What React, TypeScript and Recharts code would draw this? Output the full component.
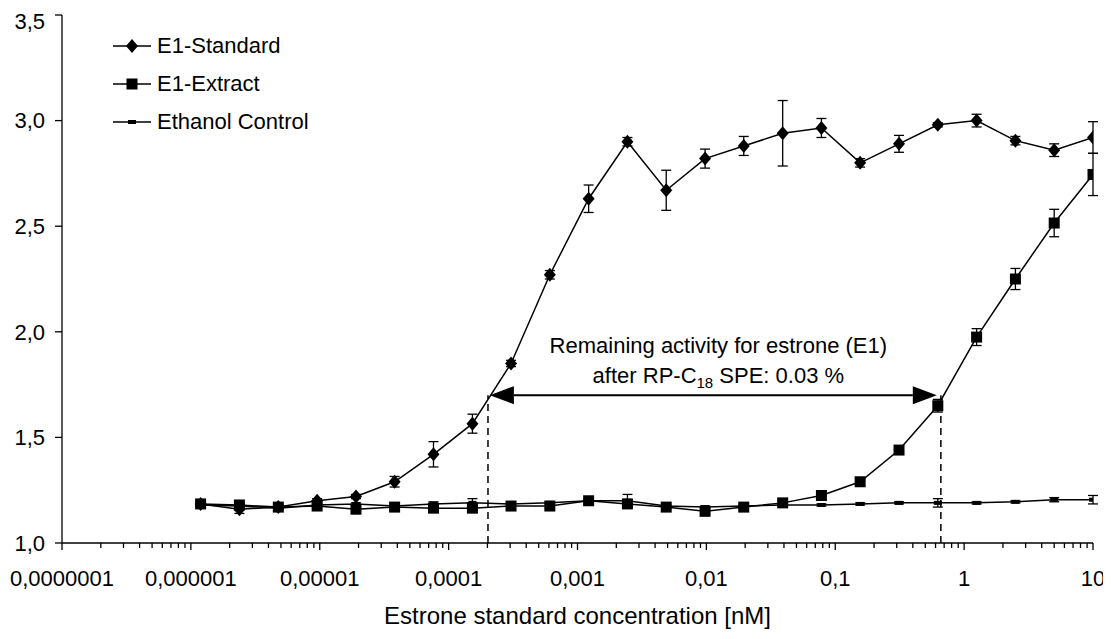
import React from 'react';
import { LineChart, Line, XAxis, YAxis, ErrorBar, ReferenceLine, Legend } from 'recharts';

const concentrations = [1.19e-6, 2.38e-6, 4.77e-6, 9.54e-6, 1.91e-5, 3.81e-5, 7.63e-5, 1.53e-4, 3.05e-4, 6.1e-4, 1.22e-3, 2.44e-3, 4.88e-3, 9.77e-3, 0.0195, 0.0391, 0.0781, 0.156, 0.3125, 0.625, 1.25, 2.5, 5, 10];
const standardMean = [1.185, 1.16, 1.17, 1.2, 1.22, 1.29, 1.42, 1.565, 1.85, 2.27, 2.63, 2.9, 2.67, 2.82, 2.88, 2.94, 2.965, 2.8, 2.89, 2.98, 3.0, 2.905, 2.86, 2.92];
const standardErr = [0.01, 0.02, 0.01, 0.01, 0.01, 0.025, 0.06, 0.045, 0.015, 0.02, 0.065, 0.02, 0.095, 0.045, 0.045, 0.155, 0.045, 0.02, 0.04, 0.01, 0.03, 0.02, 0.03, 0.075];
const extractMean = [1.185, 1.18, 1.17, 1.175, 1.16, 1.17, 1.165, 1.165, 1.175, 1.175, 1.2, 1.185, 1.17, 1.15, 1.17, 1.19, 1.225, 1.29, 1.44, 1.65, 1.975, 2.25, 2.515, 2.745];
const extractErr = [0.01, 0.01, 0.01, 0.01, 0.01, 0.01, 0.01, 0.01, 0.01, 0.01, 0.01, 0.01, 0.01, 0.015, 0.01, 0.01, 0.02, 0.01, 0.01, 0.03, 0.04, 0.05, 0.065, 0.1];
const controlMean = [1.18, 1.175, 1.165, 1.18, 1.185, 1.175, 1.185, 1.19, 1.185, 1.19, 1.2, 1.2, 1.175, 1.17, 1.175, 1.18, 1.18, 1.185, 1.19, 1.19, 1.19, 1.195, 1.205, 1.205];
const controlErr = [0.005, 0.01, 0.005, 0.005, 0.005, 0.005, 0.01, 0.02, 0.005, 0.005, 0.005, 0.03, 0.005, 0.005, 0.005, 0.005, 0.005, 0.005, 0.005, 0.02, 0.005, 0.005, 0.01, 0.02];

const decadeTicks = [1e-7, 1e-6, 1e-5, 1e-4, 1e-3, 1e-2, 1e-1, 1, 10];
const decadeLabels = ['0,0000001', '0,000001', '0,00001', '0,0001', '0,001', '0,01', '0,1', '1', '10'];
const minorMultipliers = [2, 3, 4, 5, 6, 7, 8, 9];
const yTicks = [1, 1.5, 2, 2.5, 3, 3.5];

const seriesNames = ['E1-Standard', 'E1-Extract', 'Ethanol Control'];

// annotation values (data space)
const leftDashX = 2.02e-4;
const rightDashX = 0.66;
const arrowLeftX = 2.09e-4;
const arrowRightX = 0.614;
const arrowY = 1.7;

const FONT = '"Liberation Sans", Arial, sans-serif';
const FS = 22;
const TITLE_FS = 24;

const standardData = concentrations.map((c, i) => ({ conc: c, v: standardMean[i], e: standardErr[i] }));
const extractData = concentrations.map((c, i) => ({ conc: c, v: extractMean[i], e: extractErr[i] }));
const controlData = concentrations.map((c, i) => ({ conc: c, v: controlMean[i], e: controlErr[i] }));

const allXTicks: number[] = [];
decadeTicks.forEach((d, i) => {
  allXTicks.push(d);
  if (i < decadeTicks.length - 1) minorMultipliers.forEach((m) => allXTicks.push(m * d));
});

const majorIndex = (v: number) =>
  decadeTicks.findIndex((d) => Math.abs(Math.log10(v) - Math.log10(d)) < 1e-6);

const XTick = (props: any) => {
  const { x, y, payload } = props;
  const idx = majorIndex(payload.value);
  const major = idx >= 0;
  return (
    <g>
      <line x1={x} y1={y} x2={x} y2={y + (major ? 7 : 5)} stroke="#000" strokeWidth={1.3} />
      {major && (
        <text x={x} y={y + 43} textAnchor="middle" fontSize={FS} fontFamily={FONT} fill="#000">
          {decadeLabels[idx]}
        </text>
      )}
    </g>
  );
};

const Diamond = (props: any) => {
  const { cx, cy, index } = props;
  if (cx == null || cy == null) return <g key={`d${index}`} />;
  return <path key={`d${index}`} d={`M${cx},${cy - 7} L${cx + 6},${cy} L${cx},${cy + 7} L${cx - 6},${cy} Z`} fill="#000" />;
};
const Square = (props: any) => {
  const { cx, cy, index } = props;
  if (cx == null || cy == null) return <g key={`s${index}`} />;
  return <rect key={`s${index}`} x={cx - 5.5} y={cy - 5.5} width={11} height={11} fill="#000" />;
};
const Dash = (props: any) => {
  const { cx, cy, index } = props;
  if (cx == null || cy == null) return <g key={`c${index}`} />;
  return <rect key={`c${index}`} x={cx - 4} y={cy - 2} width={8} height={4} fill="#000" />;
};

const ArrowShape = (props: any) => {
  const { x1, y1, x2 } = props;
  const head = 24;
  const hh = 9;
  const y = y1;
  const mid = (x1 + x2) / 2 + 5;
  return (
    <g>
      <line x1={x1 + head} y1={y} x2={x2 - head} y2={y} stroke="#000" strokeWidth={2} />
      <polygon points={`${x1},${y} ${x1 + head},${y - hh} ${x1 + head},${y + hh}`} fill="#000" />
      <polygon points={`${x2},${y} ${x2 - head},${y - hh} ${x2 - head},${y + hh}`} fill="#000" />
      <text x={mid} y={y - 42} textAnchor="middle" fontSize={FS} fontFamily={FONT} fill="#000">
        Remaining activity for estrone (E1)
      </text>
      <text x={mid} y={y - 12} textAnchor="middle" fontSize={FS} fontFamily={FONT} fill="#000">
        after RP-C<tspan fontSize={15} dy={5}>18</tspan>
        <tspan dy={-5}> SPE: 0.03 %</tspan>
      </text>
    </g>
  );
};

const LegendContent = () => {
  const markers = [
    <path d="M19,5 L25,12 L19,19 L13,12 Z" fill="#000" />,
    <rect x={13.5} y={6.5} width={11} height={11} fill="#000" />,
    <rect x={15} y={10} width={8} height={4} fill="#000" />,
  ];
  return (
    <div style={{ fontFamily: FONT, fontSize: FS, color: '#000' }}>
      {seriesNames.map((n, i) => (
        <div key={n} style={{ display: 'flex', alignItems: 'center', height: 38 }}>
          <svg width={38} height={24} style={{ display: 'block' }}>
            <line x1={0} y1={12} x2={38} y2={12} stroke="#000" strokeWidth={1.5} />
            {markers[i]}
          </svg>
          <span style={{ marginLeft: 6, whiteSpace: 'nowrap' }}>{n}</span>
        </div>
      ))}
    </div>
  );
};

export default function App() {
  return (
    <LineChart width={1103} height={631} margin={{ top: 7, right: 18, left: 0, bottom: 0 }}>
      <XAxis
        type="number"
        dataKey="conc"
        scale="log"
        domain={[1e-7, 10]}
        allowDataOverflow
        ticks={allXTicks}
        interval={0}
        tick={<XTick />}
        tickLine={false}
        tickSize={0}
        tickMargin={0}
        height={96}
        axisLine={{ stroke: '#000', strokeWidth: 1.3 }}
        label={{ value: 'Estrone standard concentration [nM]', position: 'insideBottom', offset: 15, fill: '#000', fontSize: TITLE_FS, fontFamily: FONT }}
      />
      <YAxis
        type="number"
        domain={[1, 3.5]}
        ticks={yTicks}
        width={54}
        tickSize={7}
        tickMargin={10}
        tickFormatter={(v: number) => v.toFixed(1).replace('.', ',')}
        tick={{ fill: '#000', fontSize: FS, fontFamily: FONT }}
        axisLine={{ stroke: '#000', strokeWidth: 1.3 }}
        tickLine={{ stroke: '#000', strokeWidth: 1.3 }}
      />
      <Legend
        layout="vertical"
        align="center"
        verticalAlign="middle"
        content={<LegendContent />}
        wrapperStyle={{ position: 'absolute', top: 19, left: 105, width: 'auto', height: 'auto' }}
      />
      <ReferenceLine segment={[{ x: leftDashX, y: 1 }, { x: leftDashX, y: arrowY }]} stroke="#000" strokeWidth={1.5} strokeDasharray="7 5" ifOverflow="visible" />
      <ReferenceLine segment={[{ x: rightDashX, y: 1 }, { x: rightDashX, y: arrowY }]} stroke="#000" strokeWidth={1.5} strokeDasharray="7 5" ifOverflow="visible" />
      <Line data={controlData} dataKey="v" name={seriesNames[2]} stroke="#000" strokeWidth={1.5} dot={Dash} isAnimationActive={false} legendType="none">
        <ErrorBar dataKey="e" direction="y" width={5} stroke="#000" strokeWidth={1.3} />
      </Line>
      <Line data={extractData} dataKey="v" name={seriesNames[1]} stroke="#000" strokeWidth={1.5} dot={Square} isAnimationActive={false} legendType="none">
        <ErrorBar dataKey="e" direction="y" width={5} stroke="#000" strokeWidth={1.3} />
      </Line>
      <Line data={standardData} dataKey="v" name={seriesNames[0]} stroke="#000" strokeWidth={1.5} dot={Diamond} isAnimationActive={false} legendType="none">
        <ErrorBar dataKey="e" direction="y" width={5} stroke="#000" strokeWidth={1.3} />
      </Line>
      <ReferenceLine segment={[{ x: arrowLeftX, y: arrowY }, { x: arrowRightX, y: arrowY }]} shape={ArrowShape} ifOverflow="visible" />
    </LineChart>
  );
}
